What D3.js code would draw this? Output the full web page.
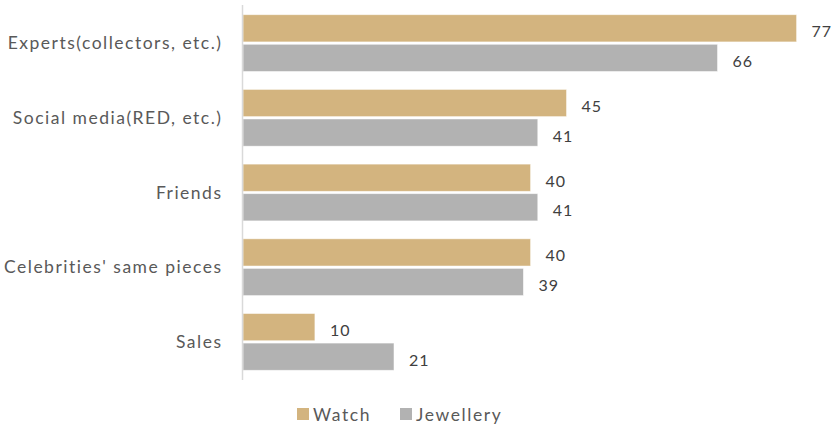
<!DOCTYPE html>
<html>
<head>
<meta charset="utf-8">
<script src="https://cdn.jsdelivr.net/npm/d3@7"></script>
<style>
  html, body { margin: 0; padding: 0; background: #fff; }
  svg { display: block; font-family: Lato, "Open Sans", sans-serif; }
</style>
</head>
<body>
<svg id="chart" width="836" height="425"></svg>
<script>
// Information sources, share of respondents (%)
const categories = ["Experts(collectors, etc.)", "Social media(RED, etc.)", "Friends", "Celebrities' same pieces", "Sales"];
const seriesNames = ["Watch", "Jewellery"];
const watchValues = [77, 45, 40, 40, 10];
const jewelleryValues = [66, 41, 41, 39, 21];
const colors = ["#D3B47F", "#B2B2B2"];

const svg = d3.select("#chart");
const margin = { top: 5, left: 243, bottom: 45 };

const x = d3.scaleLinear().domain([0, 77]).range([margin.left, 796.6]);
const y = d3.scaleBand().domain(categories).range([margin.top, 380]).paddingInner(0.24).paddingOuter(0.13);
const ySub = d3.scaleBand().domain(seriesNames).range([0, y.bandwidth()]).paddingInner(0.08);

const rows = categories.map((c, i) => ({
  category: c,
  values: [
    { series: "Watch", value: watchValues[i] },
    { series: "Jewellery", value: jewelleryValues[i] }
  ]
}));

const groups = svg.selectAll("g.row").data(rows).join("g")
  .attr("class", "row")
  .attr("transform", d => `translate(0,${y(d.category)})`);

groups.selectAll("rect").data(d => d.values).join("rect")
  .attr("x", x(0))
  .attr("y", d => ySub(d.series))
  .attr("width", d => x(d.value) - x(0))
  .attr("height", ySub.bandwidth())
  .attr("fill", (d, i) => colors[i])
  .attr("stroke", "#fff")
  .attr("stroke-opacity", 0.6)
  .attr("stroke-width", 0.8);

groups.selectAll("text.val").data(d => d.values).join("text")
  .attr("class", "val")
  .attr("x", d => x(d.value) + 15)
  .attr("y", d => ySub(d.series) + ySub.bandwidth() / 2 + 5)
  .attr("dominant-baseline", "middle")
  .attr("font-size", 16)
  .attr("letter-spacing", "1px")
  .attr("fill", "#404040")
  .text(d => d.value);

// Category axis
const yAxis = d3.axisLeft(y).tickSize(0).tickPadding(20);
const axisG = svg.append("g")
  .attr("transform", `translate(${x(0) - 0.5},0)`)
  .call(yAxis);
axisG.select(".domain").attr("stroke", "#D9D9D9").attr("stroke-width", 1.5)
  .attr("d", `M0,${margin.top}V380`);
axisG.selectAll(".tick text")
  .attr("font-size", 17.5)
  .attr("letter-spacing", "1.5px")
  .attr("font-family", "Lato, 'Open Sans', sans-serif")
  .attr("fill", "#595959")
  .attr("dy", "0.35em");

// Legend
const legendPos = [297, 400];
const legend = svg.append("g").selectAll("g").data(seriesNames).join("g")
  .attr("transform", (d, i) => `translate(${legendPos[i]},408)`);
legend.append("rect").attr("width", 12).attr("height", 12).attr("fill", (d, i) => colors[i]);
legend.append("text")
  .attr("x", 16).attr("y", 8.5)
  .attr("dominant-baseline", "middle")
  .attr("font-size", 17.5)
  .attr("letter-spacing", "1.6px")
  .attr("fill", "#595959")
  .text(d => d);
</script>
</body>
</html>
